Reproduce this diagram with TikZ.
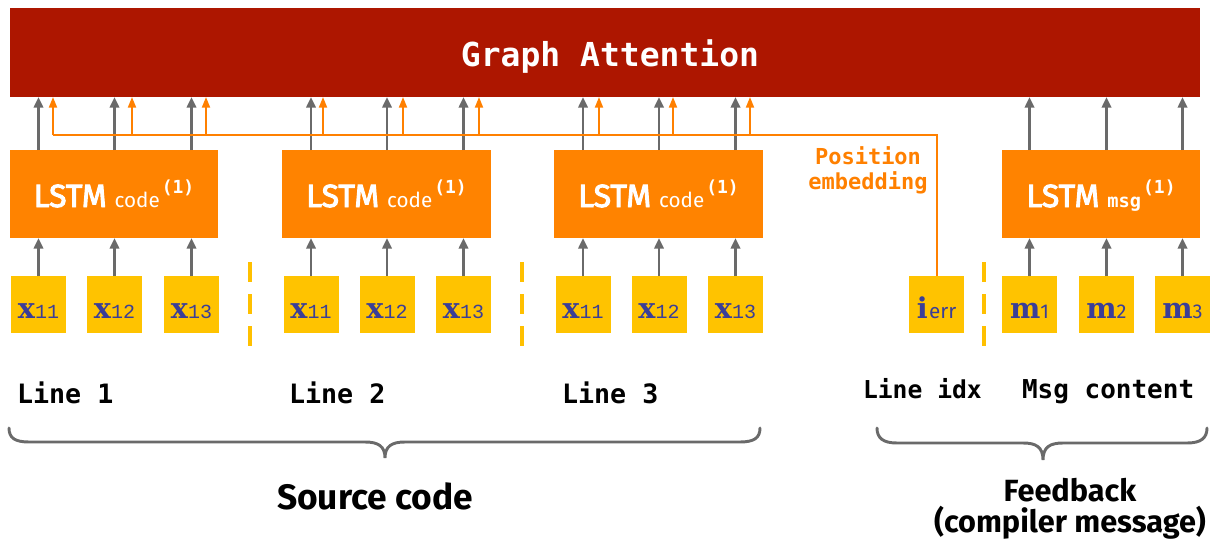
\documentclass[tikz,border=0pt]{standalone}
\usepackage{fontspec}
\setmainfont{Fira Sans}
\newfontfamily\monofnt{DejaVu Sans Mono}
\newfontfamily\tokfnt{Liberation Mono}
\newfontfamily\slabfnt{DejaVu Serif}
\newfontfamily\lstmfnt[FakeBold=3]{Fira Sans}
\usetikzlibrary{arrows.meta}

\definecolor{attnred}{HTML}{AD1600}
\definecolor{lstmorange}{HTML}{FF8300}
\definecolor{tokyellow}{HTML}{FFC300}
\definecolor{tokblue}{HTML}{3B3E97}
\definecolor{arrowgray}{HTML}{6A6A6A}
\definecolor{posorange}{HTML}{FF8000}
\definecolor{sepyellow}{HTML}{FFC000}

% token labels: heavy slab letter followed by a small index
\newcommand\tokletter[1]{{\slabfnt\bfseries\fontsize{21.5}{21.5}\selectfont #1}}
\newcommand\xtok[1]{\tokletter{x}{\tokfnt\fontsize{15}{15}\selectfont #1}}
\newcommand\mtok[1]{\tokletter{m}{\fontsize{15}{15}\selectfont #1}}
\newcommand\itok{\tokletter{i}\hspace{1pt}{\fontsize{15.5}{15.5}\selectfont err}}
% LSTM labels with subscript name and layer index
\newcommand\lstmlabel[1]{{\lstmfnt\fontsize{24}{24}\selectfont LSTM}\hspace{6pt}#1\hspace{1.5pt}\raisebox{10pt}{\monofnt\bfseries\fontsize{13.5}{13.5}\selectfont (1)}}
\newcommand\codesub{{\fontsize{15.5}{15.5}\selectfont code}}
\newcommand\msgsub{{\monofnt\bfseries\fontsize{14}{14}\selectfont msg}}

\tikzset{
  every node/.style={inner sep=0pt, outer sep=0pt},
  attnbar/.style={fill=attnred, minimum width=892.5pt, minimum height=66.75pt,
    text=white, text height=21.75pt, text depth=0pt,
    font=\monofnt\bfseries\fontsize{24.75}{24.75}\selectfont},
  lstmbox/.style={fill=lstmorange, minimum height=66pt, text=white,
    text height=19.5pt, text depth=0pt},
  tokbox/.style={fill=tokyellow, minimum width=41.25pt, minimum height=42.75pt,
    text=tokblue, text height=20.25pt, text depth=0pt},
  garrow/.style={draw=arrowgray, line width=1.9pt, -{Triangle[length=8pt,width=7pt]}},
  oarrow/.style={draw=posorange, line width=1.5pt, -{Triangle[length=8pt,width=6pt]}},
  oline/.style={draw=posorange, line width=1.5pt},
  sepline/.style={draw=sepyellow, line width=2.8pt, dash pattern=on 15pt off 9pt},
  bracepath/.style={draw=arrowgray, line width=2.2pt, line cap=round},
  linelabel/.style={anchor=base west, font=\monofnt\bfseries\fontsize{20}{20}\selectfont},
  poslabel/.style={anchor=base, text=posorange, font=\monofnt\bfseries\fontsize{16.5}{16.5}\selectfont},
  grouplabel/.style={anchor=base, font=\bfseries\fontsize{23}{23}\selectfont},
}

\begin{document}
\begin{tikzpicture}[x=0.75pt, y=-0.75pt]
\useasboundingbox (0,0) rectangle (1210,542);

% attention layer
\node[attnbar] (bar) at (605,52.5) {\hspace{7.5pt}Graph Attention};

% per-line encoders
\node[lstmbox, minimum width=156pt]    (lstm1) at (114,194)   {\lstmlabel{\codesub}};
\node[lstmbox, minimum width=156.75pt] (lstm2) at (386.5,194) {\lstmlabel{\codesub}};
\node[lstmbox, minimum width=156.75pt] (lstm3) at (658.5,194) {\lstmlabel{\codesub}};
\node[lstmbox, minimum width=148.5pt]  (lstm4) at (1101,194)  {\lstmlabel{\msgsub}};

% input tokens
\node[tokbox] (a1) at (38.5,304.5)  {\xtok{11}};
\node[tokbox] (a2) at (114.5,304.5) {\xtok{12}};
\node[tokbox] (a3) at (191.5,304.5) {\xtok{13}};
\node[tokbox] (b1) at (311,304.5)   {\xtok{11}};
\node[tokbox] (b2) at (387,304.5)   {\xtok{12}};
\node[tokbox] (b3) at (463.5,304.5) {\xtok{13}};
\node[tokbox] (c1) at (583,304.5)   {\xtok{11}};
\node[tokbox] (c2) at (659,304.5)   {\xtok{12}};
\node[tokbox] (c3) at (735.5,304.5) {\xtok{13}};
\node[tokbox] (ierr) at (936.5,304.5) {\itok};
\node[tokbox] (m1) at (1029.5,304.5) {\mtok{1}};
\node[tokbox] (m2) at (1106.5,304.5) {\mtok{2}};
\node[tokbox] (m3) at (1182.5,304.5) {\mtok{3}};

% separators between groups
\coordinate (s1t) at (250,262); \coordinate (s1b) at (250,348);
\coordinate (s2t) at (522,262); \coordinate (s2b) at (522,348);
\coordinate (s3t) at (984,262); \coordinate (s3b) at (984,348);
\draw[sepline] (s1t) -- (s1b);
\draw[sepline] (s2t) -- (s2b);
\draw[sepline] (s3t) -- (s3b);

% token -> LSTM and LSTM -> attention
\foreach \t/\l in {a1/lstm1,a2/lstm1,a3/lstm1,b1/lstm2,b2/lstm2,b3/lstm2,
                   c1/lstm3,c2/lstm3,c3/lstm3,m1/lstm4,m2/lstm4,m3/lstm4}{
  \draw[garrow] (\t.north) -- (\l.south -| \t.north);
  \draw[garrow] (\l.north -| \t.north) -- (bar.south -| \t.north);
}

% position embedding of the error line
\coordinate (p1) at (53,135);  \coordinate (p2) at (132,135); \coordinate (p3) at (206,135);
\coordinate (p4) at (323,135); \coordinate (p5) at (403,135); \coordinate (p6) at (479,135);
\coordinate (p7) at (599,135); \coordinate (p8) at (673,135); \coordinate (p9) at (750,135);
\draw[oline] (ierr.north) |- (p1);
\foreach \p in {p1,p2,p3,p4,p5,p6,p7,p8,p9}{
  \draw[oarrow] (\p) -- (bar.south -| \p);
}
\node[poslabel] (pos1) at (868,164) {Position};
\node[poslabel] (pos2) at (868,189) {embedding};

% group labels
\node[linelabel] (line1) at (17,403)  {Line 1};
\node[linelabel] (line2) at (289,403) {Line 2};
\node[linelabel] (line3) at (562,403) {Line 3};
\node[anchor=base west, font=\monofnt\bfseries\fontsize{18.5}{18.5}\selectfont] (lidx) at (863,398) {Line idx};
\node[anchor=base west, font=\monofnt\bfseries\fontsize{19.5}{19.5}\selectfont] (mcont) at (1022,398) {Msg content};

% braces
\draw[bracepath] (9,428) .. controls (9,438) and (15,442) .. (29,442) -- (365,442)
  .. controls (378,442) and (385,446) .. (385,458)
  .. controls (385,446) and (392,442) .. (405,442) -- (740,442)
  .. controls (754,442) and (760,438) .. (760,428);
\draw[bracepath] (877,428) .. controls (877,438) and (883,443) .. (897,443) -- (1023,443)
  .. controls (1036,443) and (1043,447) .. (1043,460)
  .. controls (1043,447) and (1050,443) .. (1063,443) -- (1187,443)
  .. controls (1201,443) and (1207,438) .. (1207,428);

\node[anchor=base, font=\bfseries\fontsize{26.5}{26.5}\selectfont] (src) at (375,509) {Source code};
\node[grouplabel] (fb1) at (1070,501) {Feedback};
\node[grouplabel] (fb2) at (1070,532) {(compiler message)};
\end{tikzpicture}
\end{document}
